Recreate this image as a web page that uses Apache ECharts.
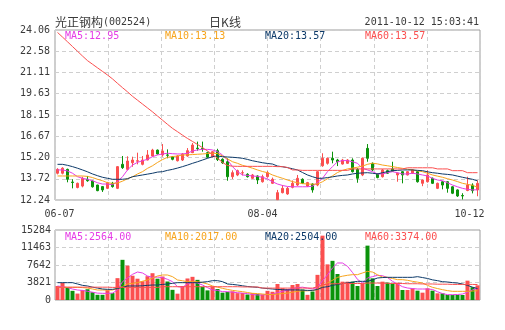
<!DOCTYPE html>
<html>
<head>
<meta charset="utf-8">
<script src="https://cdn.jsdelivr.net/npm/echarts@6/dist/echarts.min.js"></script>
<style>
  html, body { margin: 0; padding: 0; background: #fff; }
  #chart { width: 505px; height: 330px; }
</style>
</head>
<body>
<div id="chart"></div>
<script>
// ---- daily K-line data, 光正钢构 (002524), 2011-06-07 .. 2011-10-12 ----
const open = [14.10,14.10,14.37,13.49,13.11,13.21,13.68,13.56,13.28,13.17,
  13.05,13.40,13.05,14.72,14.37,14.83,14.94,14.72,15.02,15.30,
  15.71,15.37,15.37,15.25,14.97,15.02,15.30,15.53,15.85,15.83,
  15.53,15.25,15.67,15.07,14.90,13.86,13.98,14.12,14.03,13.75,
  13.91,13.51,13.86,13.40,12.26,12.75,12.66,13.12,13.28,13.68,
  13.21,13.35,13.28,14.62,14.79,15.14,15.02,14.74,14.79,15.02,
  14.37,13.98,15.83,14.79,14.03,13.86,14.28,14.40,13.98,14.21,
  13.98,14.10,14.21,13.40,13.51,13.75,13.05,13.51,13.51,13.16,
  12.94,12.55,12.90,13.28,12.94];
const close = [14.37,14.45,13.68,13.46,13.40,13.75,13.58,13.16,12.89,12.94,
  13.44,13.17,14.56,14.49,14.95,15.02,14.97,15.02,15.37,15.71,
  15.44,15.65,15.35,15.07,15.30,15.44,15.67,16.06,15.82,15.80,
  15.21,15.60,15.05,14.83,13.86,14.14,14.28,14.14,13.86,13.98,
  13.63,13.86,14.14,13.68,12.75,13.05,13.05,13.40,13.75,13.40,
  13.45,12.94,14.21,15.14,15.14,15.02,14.90,15.02,15.02,14.21,
  13.75,15.14,15.14,14.33,13.80,14.33,14.10,14.24,14.10,13.98,
  14.21,14.33,13.51,13.63,13.98,13.40,13.40,13.28,13.05,12.71,
  12.52,12.52,13.28,12.89,13.40];
const low = [14.02,14.02,13.47,13.05,13.05,13.12,13.51,13.10,12.85,12.80,
  13.00,13.10,13.00,14.40,14.30,14.55,14.72,14.65,15.00,15.25,
  15.40,15.25,15.14,15.00,14.92,14.95,15.25,15.50,15.67,15.60,
  15.15,15.20,14.95,14.75,13.58,13.70,13.90,13.95,13.80,13.70,
  13.35,13.45,13.80,13.35,12.24,12.70,12.60,13.05,13.20,13.35,
  13.15,12.75,13.20,14.55,14.70,14.79,14.60,14.70,14.75,14.15,
  13.44,13.90,14.90,14.25,13.75,13.80,14.05,14.20,13.51,13.40,
  13.95,14.05,13.45,13.20,13.45,13.35,13.00,12.98,12.75,12.65,
  12.45,12.28,12.85,12.70,12.50];
const high = [14.45,14.52,14.42,13.68,13.45,13.86,13.91,13.60,13.30,13.20,
  13.50,13.50,14.60,15.30,15.28,15.25,15.53,15.30,15.71,15.80,
  15.75,16.13,15.76,15.30,15.35,15.50,15.85,16.20,16.30,16.30,
  15.60,15.65,15.80,15.14,15.14,14.30,14.35,14.30,14.10,14.05,
  13.95,14.00,14.25,13.80,12.94,13.28,13.15,13.60,13.98,13.75,
  13.50,13.40,14.25,15.49,15.20,15.60,15.10,15.10,15.08,15.14,
  14.45,15.20,16.13,14.85,14.10,14.40,14.35,14.90,14.15,14.25,
  14.25,14.38,14.25,13.65,14.30,13.80,13.45,13.55,13.55,13.20,
  12.98,12.71,13.86,13.40,13.60];

// price moving averages
const ma5 = [14.33,14.33,14.26,14.10,13.86,13.75,13.68,13.58,13.44,13.35,
  13.35,13.30,13.51,13.86,14.33,14.67,14.86,14.97,15.07,15.25,
  15.37,15.44,15.49,15.46,15.44,15.44,15.49,15.65,15.72,15.76,
  15.76,15.72,15.60,15.37,15.02,14.56,14.21,13.98,13.95,13.91,
  13.88,13.82,13.70,13.51,13.35,13.25,13.18,13.16,13.16,13.16,
  13.16,13.20,13.45,13.75,14.21,14.56,14.90,14.98,14.98,14.90,
  14.79,14.44,14.33,14.21,14.05,14.05,14.14,14.21,14.14,14.05,
  14.05,14.10,14.05,13.98,13.91,13.75,13.63,13.58,13.44,13.28,
  13.16,13.05,12.98,12.94,12.95];
const ma10 = [13.91,13.91,13.91,13.91,13.91,13.91,13.88,13.80,13.68,13.58,
  13.44,13.40,13.42,13.55,13.72,13.85,14.05,14.21,14.44,14.62,
  14.85,15.05,15.21,15.26,15.30,15.37,15.38,15.40,15.42,15.44,
  15.47,15.49,15.47,15.30,15.10,14.90,14.79,14.65,14.56,14.45,
  14.33,14.22,14.14,13.98,13.86,13.75,13.63,13.52,13.44,13.38,
  13.35,13.34,13.35,13.51,13.72,13.92,14.15,14.30,14.40,14.46,
  14.52,14.60,14.72,14.80,14.75,14.67,14.62,14.56,14.50,14.44,
  14.38,14.33,14.27,14.21,14.10,13.98,13.90,13.82,13.72,13.63,
  13.52,13.40,13.33,13.26,13.13];
const ma20 = [14.72,14.72,14.65,14.56,14.45,14.33,14.20,14.05,13.93,13.82,
  13.75,13.68,13.68,13.68,13.72,13.86,13.92,13.98,14.04,14.10,
  14.18,14.21,14.30,14.37,14.46,14.56,14.67,14.79,14.90,15.02,
  15.14,15.25,15.30,15.25,15.23,15.21,15.18,15.14,15.06,14.97,
  14.90,14.83,14.78,14.74,14.60,14.55,14.49,14.41,14.33,14.15,
  13.98,13.86,13.75,13.75,13.80,13.85,13.91,13.95,13.98,14.05,
  14.10,14.12,14.14,14.10,14.05,14.14,14.21,14.28,14.30,14.33,
  14.33,14.33,14.30,14.28,14.20,14.14,14.10,14.05,14.02,13.98,
  13.90,13.82,13.75,13.68,13.57];
const ma60 = [23.89,23.57,23.24,22.91,22.58,22.25,21.93,21.68,21.43,21.18,
  20.93,20.66,20.35,20.05,19.76,19.45,19.18,18.91,18.64,18.37,
  18.08,17.79,17.50,17.22,16.99,16.75,16.52,16.31,16.10,15.88,
  15.65,15.40,15.15,14.85,14.64,14.59,14.58,14.58,14.58,14.58,
  14.58,14.58,14.58,14.58,14.56,14.56,14.50,14.33,14.33,14.30,
  14.30,14.30,14.30,14.30,14.30,14.30,14.30,14.30,14.30,14.40,
  14.40,14.40,14.40,14.40,14.40,14.40,14.40,14.40,14.40,14.40,
  14.48,14.48,14.48,14.48,14.48,14.48,14.40,14.40,14.40,14.28,
  14.28,14.28,14.14,14.14,14.14];

// traded volume (lots) and its moving averages
const volume = [3057,3712,2766,2000,1400,2150,2350,1700,1130,1130,
  2150,1500,4770,8770,7500,5300,4650,4100,5200,5850,
  4650,5130,4040,2220,1380,3050,4700,5060,4400,2870,
  2100,2950,2400,1600,1750,1900,1500,1530,1200,1500,
  1300,1200,2000,1800,3493,2580,2400,3270,3493,2290,
  1130,1850,5490,14050,7780,8550,5677,4003,4003,4003,
  3057,3566,11870,4730,3057,4003,3800,3566,3785,2183,
  2183,2547,2038,1601,2547,2038,1456,1456,1092,1092,
  1092,1092,4221,2800,3200];
const vma5 = [3057,2900,2700,2400,2183,2100,1900,1700,1500,1456,
  1456,1500,2183,4003,4800,5604,6113,5900,5240,4949,
  5000,4900,4512,4003,2911,2800,3493,3900,3700,3275,
  2700,2183,2100,1820,1820,1700,1600,1500,1400,1200,
  1100,1100,1200,1300,1600,1900,2200,2500,2700,2800,
  2600,2400,2800,4200,5500,7000,8079,8079,7350,6000,
  4500,3712,4804,5100,5386,5300,4900,4076,3500,2900,
  2620,2500,2400,2400,2400,2300,1800,1400,1164,1164,
  1200,1300,1700,2200,2564];
const vma10 = [2765,2765,2765,2765,2765,2700,2600,2400,2183,2183,
  2183,2183,2547,2911,3493,3640,3785,4100,4367,4800,
  5240,5459,5459,5095,4367,4200,4003,4003,4003,3785,
  3500,3057,2800,2547,2300,2100,1950,1820,1640,1456,
  1400,1300,1200,1200,1300,1400,1500,1700,1900,2000,
  2000,2100,2256,3000,3712,4300,4949,5200,5400,5532,
  5532,5900,6260,6100,5500,5000,4949,4700,4440,4440,
  4300,4076,3900,3700,3200,2765,2500,2256,2050,1892,
  1892,1892,1892,1950,2017];
const vma20 = [3785,3785,3785,3785,3500,3200,3057,2800,2600,2400,
  2329,2329,2500,2765,3057,3057,3057,3100,3200,3275,
  3275,3400,3500,3640,3785,3785,3785,3785,3785,3900,
  4003,4221,4221,4003,3500,3400,3275,3100,2950,2850,
  2765,2600,2500,2400,2300,2250,2200,2200,2200,2150,
  2100,2100,2300,2765,2900,3202,3400,3600,3712,3900,
  4076,4076,4076,4400,4804,4900,4949,4949,4949,4949,
  4949,4949,5095,4900,4700,4400,4221,4000,3930,3800,
  3700,3500,3200,2800,2504];
const vma60 = [2800,2800,2800,2800,2800,2800,2800,2800,2800,2800,
  2800,2750,2750,2750,2750,2750,2750,2750,2750,2750,
  2750,2900,2900,2900,2900,2900,2900,2900,2900,2900,
  2900,2900,2900,2900,2900,2900,2900,2850,2850,2850,
  2850,2600,2600,2600,2600,2600,2600,2600,2600,2600,
  2600,2600,2900,3300,3500,3550,3550,3600,3600,3600,
  3600,3600,3700,3700,3700,3650,3650,3600,3600,3600,
  3550,3550,3550,3500,3500,3500,3450,3450,3450,3400,
  3400,3400,3400,3400,3374];

// axis ticks and header texts
const xTickIndex = [0, 41, 84];
const xTickText = ['06-07', '08-04', '10-12'];
const priceTicks = ['12.24','13.72','15.20','16.67','18.15','19.63','21.11','22.58','24.06'];
const volTicks = ['0','3821','7642','11463','15284'];
const stockName = '光正钢构';
const stockCode = '(002524)';
const periodText = '日K线';
const stampText = '2011-10-12 15:03:41';
const priceLegend = ['MA5:12.95', 'MA10:13.13', 'MA20:13.57', 'MA60:13.57'];
const volLegend = ['MA5:2564.00', 'MA10:2017.00', 'MA20:2504.00', 'MA60:3374.00'];

// ---- styling ----
const MONO = '"DejaVu Sans Mono", monospace';
const CJK = '"Noto Sans CJK SC", sans-serif';
const TEXT = '#3a3a3a';
const UP = '#fb4f4f', DOWN = '#0b930b';
const MA_COLORS = ['#e63ce6', '#f7a41c', '#0d3a69', '#fb4f4f'];
const GRID_LINE = { type: [4, 3], color: '#cfcfcf', width: 1 };

const PRICE_MIN = 12.24, PRICE_MAX = 24.06, PRICE_STEP = 1.4775;
const VOL_MAX = 15284, VOL_STEP = 3821;

const cats = open.map((_, i) => String(i));
const candles = open.map((o, i) => [o, close[i], low[i], high[i]]);
const volBars = volume.map((v, i) => ({
  value: v,
  itemStyle: { color: close[i] >= open[i] ? UP : DOWN }
}));

function maLine(data, color, xi, yi) {
  return {
    type: 'line', data, xAxisIndex: xi, yAxisIndex: yi,
    symbol: 'none', showSymbol: false, silent: true,
    lineStyle: { width: 1, color }, itemStyle: { color },
    z: 3
  };
}

function legendTexts(list, y) {
  return list.map((t, k) => ({
    type: 'text', x: 65 + 100 * k, y,
    style: { text: t, font: '10px ' + MONO, fill: MA_COLORS[k], align: 'left', verticalAlign: 'middle' },
    z: 10
  }));
}

// vertical dashed division lines (8 equal parts of the plot width)
function divisionAxis(gridIndex) {
  return {
    type: 'value', gridIndex, min: 0, max: 8, interval: 1,
    axisLine: { show: false }, axisTick: { show: false }, axisLabel: { show: false },
    splitLine: { show: true, lineStyle: GRID_LINE }
  };
}

const chart = echarts.init(document.getElementById('chart'), null, { renderer: 'canvas' });
chart.setOption({
  animation: false,
  backgroundColor: '#fff',
  grid: [
    { left: 55, top: 30, width: 425, height: 170, show: true, borderColor: '#9c9c9c', borderWidth: 1, backgroundColor: 'transparent' },
    { left: 55, top: 230, width: 425, height: 70, show: true, borderColor: '#9c9c9c', borderWidth: 1, backgroundColor: 'transparent' }
  ],
  xAxis: [
    {
      type: 'category', gridIndex: 0, data: cats, boundaryGap: true,
      axisLine: { show: false }, axisTick: { show: false }, splitLine: { show: false },
      axisLabel: {
        interval: (i) => xTickIndex.includes(i),
        formatter: (v) => {
          const k = xTickIndex.indexOf(Number(v));
          if (k < 0) return '';
          if (k === 0) return '{l|' + xTickText[k] + '}';
          if (k === xTickText.length - 1) return '{r|' + xTickText[k] + '}';
          return '{m|' + xTickText[k] + '}';
        },
        margin: 9,
        rich: {
          l: { fontFamily: MONO, fontSize: 10, color: TEXT, padding: [0, 0, 0, 4] },
          m: { fontFamily: MONO, fontSize: 10, color: TEXT },
          r: { fontFamily: MONO, fontSize: 10, color: TEXT, padding: [0, 16, 0, 0] }
        }
      }
    },
    divisionAxis(0),
    {
      type: 'category', gridIndex: 1, data: cats, boundaryGap: true,
      axisLine: { show: false }, axisTick: { show: false }, axisLabel: { show: false }, splitLine: { show: false }
    },
    divisionAxis(1)
  ],
  yAxis: [
    {
      type: 'value', gridIndex: 0, min: PRICE_MIN, max: PRICE_MAX, interval: PRICE_STEP,
      axisLine: { show: false }, axisTick: { show: false },
      splitLine: { show: true, lineStyle: GRID_LINE },
      axisLabel: {
        formatter: (v) => priceTicks[Math.round((v - PRICE_MIN) / PRICE_STEP)],
        margin: 5, fontFamily: MONO, fontSize: 10, color: TEXT
      }
    },
    {
      type: 'value', gridIndex: 1, min: 0, max: VOL_MAX, interval: VOL_STEP,
      axisLine: { show: false }, axisTick: { show: false },
      splitLine: { show: true, lineStyle: GRID_LINE },
      axisLabel: {
        formatter: (v) => volTicks[Math.round(v / VOL_STEP)],
        margin: 4, fontFamily: MONO, fontSize: 10, color: TEXT
      }
    }
  ],
  series: [
    {
      type: 'candlestick', xAxisIndex: 0, yAxisIndex: 0, data: candles,
      barWidth: 3, silent: true, z: 2,
      itemStyle: { color: UP, color0: DOWN, borderColor: UP, borderColor0: DOWN, borderWidth: 1 }
    },
    maLine(ma5, MA_COLORS[0], 0, 0),
    maLine(ma10, MA_COLORS[1], 0, 0),
    maLine(ma20, MA_COLORS[2], 0, 0),
    maLine(ma60, MA_COLORS[3], 0, 0),
    { type: 'bar', xAxisIndex: 2, yAxisIndex: 1, data: volBars, barWidth: 4, silent: true, z: 2 },
    maLine(vma5, MA_COLORS[0], 2, 1),
    maLine(vma10, MA_COLORS[1], 2, 1),
    maLine(vma20, MA_COLORS[2], 2, 1),
    maLine(vma60, MA_COLORS[3], 2, 1)
  ],
  graphic: [
    {
      type: 'text', x: 55, y: 22,
      style: {
        text: '{a|' + stockName + '}{b|' + stockCode + '}',
        verticalAlign: 'middle', align: 'left',
        rich: {
          a: { font: '12px ' + CJK, fill: TEXT },
          b: { font: '10px ' + MONO, fill: TEXT }
        }
      }
    },
    { type: 'text', x: 225, y: 22, style: { text: periodText, font: '12px ' + CJK, fill: TEXT, align: 'center', verticalAlign: 'middle' } },
    { type: 'text', x: 479, y: 22, style: { text: stampText, font: '10px ' + MONO, fill: TEXT, align: 'right', verticalAlign: 'middle' } },
    ...legendTexts(priceLegend, 36),
    ...legendTexts(volLegend, 237)
  ]
});
</script>
</body>
</html>
